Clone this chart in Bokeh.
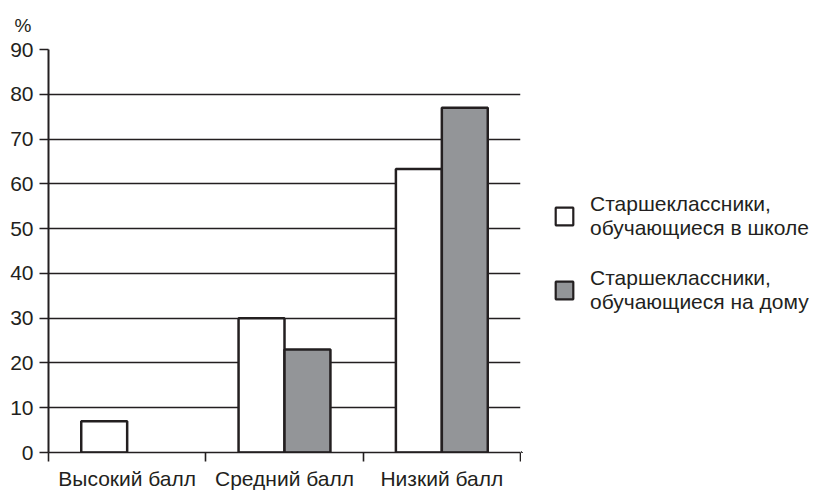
import numpy as np
from bokeh.plotting import figure
from bokeh.layouts import row
from bokeh.models import (ColumnDataSource, Range1d, FixedTicker, Legend, LegendItem)
from bokeh.embed import file_html
from bokeh.resources import INLINE

categories = ["Высокий балл", "Средний балл", "Низкий балл"]
school = [7, 30, 63.3]
home = [0, 23, 77]
series_names = ["Старшеклассники,\nобучающиеся в школе",
                "Старшеклассники,\nобучающиеся на дому"]
y_ticks = [0, 10, 20, 30, 40, 50, 60, 70, 80, 90]

FONT = "Liberation Sans"
DARK = "#231f20"
GREY = "#939598"

n = len(categories)
centers = np.arange(n) + 0.5
off = 0.146
bw = 0.292

src = ColumnDataSource(dict(
    xs=centers - off, xh=centers + off, school=school, home=home,
    la_s=[0.0 if v == 0 else 1.0 for v in school],
    la_h=[0.0 if v == 0 else 1.0 for v in home]))

p = figure(width=521, height=492, output_backend="svg", toolbar_location=None,
           x_range=Range1d(0, n), y_range=Range1d(0, max(y_ticks)),
           min_border_left=48, min_border_right=1, min_border_top=49,
           min_border_bottom=38, title="%")
p.outline_line_color = None
p.background_fill_color = "white"

p.title.align = "left"
p.title.offset = -34
p.title.vertical_align = "top"
p.title.text_font = FONT
p.title.text_font_size = "19px"
p.title.text_font_style = "normal"
p.title.text_color = DARK
p.title.standoff = 24

p.vbar(x="xs", top="school", width=bw, source=src, fill_color="white",
       line_color=DARK, line_width=2.5, line_alpha="la_s")
p.vbar(x="xh", top="home", width=bw, source=src, fill_color=GREY,
       line_color=DARK, line_width=2.5, line_alpha="la_h")

# axes
p.xaxis.ticker = FixedTicker(ticks=list(centers), minor_ticks=list(range(n + 1)))
p.xaxis.major_label_overrides = {float(c): lab for c, lab in zip(centers, categories)}
p.xaxis.major_tick_line_color = None
p.xaxis.major_tick_out = 0
p.xaxis.major_tick_in = 0
p.xaxis.minor_tick_in = 0
p.xaxis.minor_tick_out = 9
p.xaxis.minor_tick_line_color = DARK
p.xaxis.minor_tick_line_width = 1.6
p.xaxis.axis_line_color = DARK
p.xaxis.axis_line_width = 1.6
p.xaxis.major_label_standoff = 5
p.xaxis.major_label_text_font = FONT
p.xaxis.major_label_text_font_size = "21px"
p.xaxis.major_label_text_color = DARK

p.yaxis.ticker = FixedTicker(ticks=y_ticks)
p.yaxis.minor_tick_line_color = None
p.yaxis.major_tick_in = 0
p.yaxis.major_tick_out = 9
p.yaxis.major_tick_line_color = DARK
p.yaxis.major_tick_line_width = 1.6
p.yaxis.axis_line_color = DARK
p.yaxis.axis_line_width = 2
p.yaxis.major_label_standoff = 6
p.yaxis.major_label_text_font = FONT
p.yaxis.major_label_text_font_size = "21px"
p.yaxis.major_label_text_color = DARK

p.xgrid.grid_line_color = None
p.ygrid.ticker = FixedTicker(ticks=y_ticks)
p.ygrid.grid_line_color = DARK
p.ygrid.grid_line_width = 1.6

# legend panel (its glyph renderers sit outside the visible range)
lg = figure(width=298, height=492, output_backend="svg", toolbar_location=None,
            min_border=0, x_axis_type=None, y_axis_type=None,
            x_range=Range1d(100, 101), y_range=Range1d(100, 101))
lg.outline_line_color = None
lg.xgrid.grid_line_color = None
lg.ygrid.grid_line_color = None
g1 = lg.vbar(x="xs", top="school", width=bw, source=src, fill_color="white",
             line_color=DARK, line_width=2.2)
g2 = lg.vbar(x="xh", top="home", width=bw, source=src, fill_color=GREY,
             line_color=DARK, line_width=2.2)

legend = Legend(items=[LegendItem(label=series_names[0], renderers=[g1]),
                       LegendItem(label=series_names[1], renderers=[g2])],
                location=(32, 138), orientation="vertical")
legend.margin = 0
legend.padding = 0
legend.spacing = 26
legend.glyph_width = 22
legend.glyph_height = 22
legend.label_standoff = 15
legend.label_text_font = FONT
legend.label_text_font_size = "21px"
legend.label_text_color = DARK
legend.label_text_line_height = 0.85
legend.border_line_color = None
legend.background_fill_alpha = 0
lg.add_layout(legend, "center")

layout = row(p, lg)
open("out.html", "w").write(file_html(layout, INLINE))
